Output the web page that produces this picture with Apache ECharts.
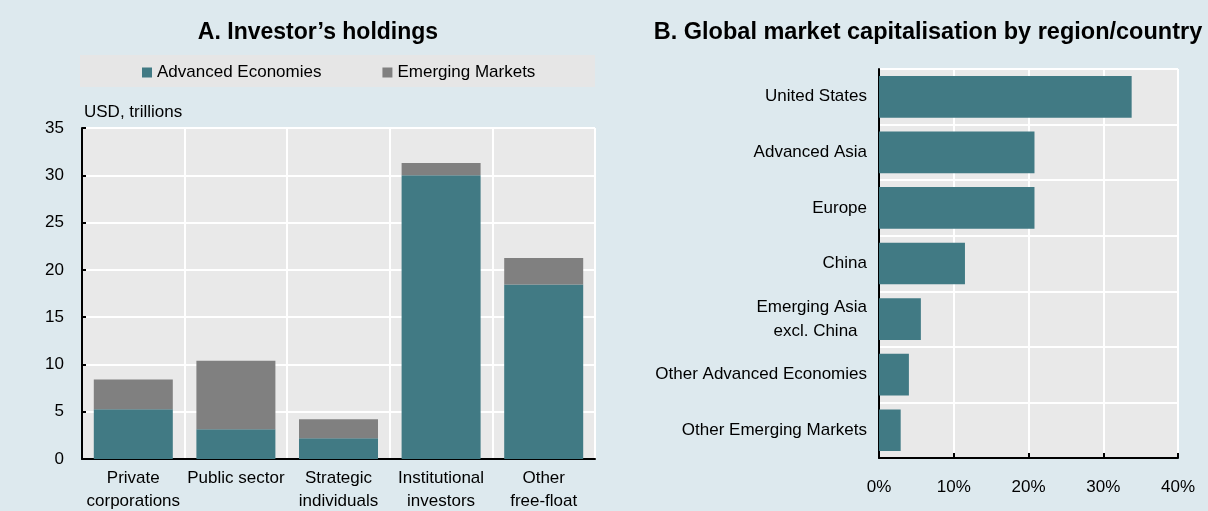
<!DOCTYPE html>
<html>
<head>
<meta charset="utf-8">
<script src="https://cdn.jsdelivr.net/npm/echarts@6/dist/echarts.min.js"></script>
<style>
  html, body { margin: 0; padding: 0; background: #dde9ee; }
  #chart { width: 1208px; height: 511px; }
</style>
</head>
<body>
<div id="chart"></div>
<script>
// panel A: investor holdings, USD trillions
const holders = ['Private\ncorporations', 'Public sector', 'Strategic\nindividuals', 'Institutional\ninvestors', 'Other\nfree-float'];
const advanced = [5.25, 3.15, 2.2, 30.0, 18.45];
const emerging = [3.15, 7.25, 2.0, 1.3, 2.8];

// panel B: share of global market cap, %
const regions = ['United States', 'Advanced Asia', 'Europe', 'China', 'Emerging Asia\nexcl. China  ', 'Other Advanced Economies', 'Other Emerging Markets'];
const shares = [33.8, 20.8, 20.8, 11.5, 5.6, 4.0, 2.9];

const teal = '#417a84';
const grey = '#808080';
const font = "'Liberation Sans', Arial, sans-serif";
const fs = 17;

const chart = echarts.init(document.getElementById('chart'));

chart.setOption({
  backgroundColor: '#dde9ee',
  textStyle: { fontFamily: font, color: '#000' },
  title: [
    { text: 'A. Investor\u2019s holdings', left: 313, top: 16, textAlign: 'center',
      textStyle: { fontFamily: font, fontSize: 23, fontWeight: 'bold', color: '#000' } },
    { text: 'B. Global market capitalisation by region/country', left: 923, top: 16, textAlign: 'center',
      textStyle: { fontFamily: font, fontSize: 23.5, fontWeight: 'bold', color: '#000' } }
  ],
  graphic: [
    { type: 'rect', left: 80, top: 55, shape: { width: 515, height: 32 }, style: { fill: '#e6e6e6' }, z: 0 }
  ],
  legend: {
    data: ['Advanced Economies', 'Emerging Markets'],
    left: 137, top: 59,
    itemWidth: 10, itemHeight: 10, itemGap: 61, icon: 'rect',
    textStyle: { fontFamily: font, fontSize: fs, color: '#000' },
    z: 5
  },
  grid: [
    { left: 82, top: 128, width: 513, height: 331, outerBoundsMode: 'none',
      show: true, backgroundColor: '#e9e9e9', borderWidth: 0 },
    { left: 879, top: 69, width: 299, height: 389, outerBoundsMode: 'none',
      show: true, backgroundColor: '#e9e9e9', borderWidth: 0 }
  ],
  xAxis: [
    { gridIndex: 0, type: 'category', data: holders,
      axisLine: { lineStyle: { color: '#000', width: 2 } },
      axisTick: { show: false },
      axisLabel: { fontFamily: font, fontSize: fs, color: '#000', lineHeight: 23, margin: 8, interval: 0 },
      splitLine: { show: true, lineStyle: { color: '#fff', width: 2 } } },
    { gridIndex: 1, type: 'value', min: 0, max: 40, interval: 10,
      axisLine: { show: true, lineStyle: { color: '#000', width: 2 } },
      axisTick: { show: true, inside: true, length: 5, lineStyle: { color: '#000', width: 2 } },
      axisLabel: { fontFamily: font, fontSize: fs, color: '#000', margin: 21, formatter: '{value}%' },
      splitLine: { show: true, lineStyle: { color: '#fff', width: 2 } } }
  ],
  yAxis: [
    { gridIndex: 0, type: 'value', min: 0, max: 35, interval: 5,
      name: 'USD, trillions', nameLocation: 'end', nameGap: 7,
      nameTextStyle: { fontFamily: font, fontSize: fs, color: '#000', align: 'left', padding: [0, 0, 0, 2] },
      axisLine: { show: true, lineStyle: { color: '#000', width: 2 } },
      axisTick: { show: true, inside: true, length: 4, lineStyle: { color: '#000', width: 2 } },
      axisLabel: { fontFamily: font, fontSize: fs, color: '#000', margin: 18 },
      splitLine: { show: true, lineStyle: { color: '#fff', width: 2 } } },
    { gridIndex: 1, type: 'category', data: regions, inverse: true,
      axisLine: { lineStyle: { color: '#000', width: 2 } },
      axisTick: { show: false },
      axisLabel: { fontFamily: font, fontSize: fs, color: '#000', margin: 12, lineHeight: 24, interval: 0 },
      splitLine: { show: true, lineStyle: { color: '#fff', width: 2 } } }
  ],
  series: [
    { name: 'Advanced Economies', type: 'bar', stack: 'a', xAxisIndex: 0, yAxisIndex: 0,
      data: advanced, barWidth: '77%', itemStyle: { color: teal } },
    { name: 'Emerging Markets', type: 'bar', stack: 'a', xAxisIndex: 0, yAxisIndex: 0,
      data: emerging, barWidth: '77%', itemStyle: { color: grey } },
    { name: 'Share', type: 'bar', xAxisIndex: 1, yAxisIndex: 1,
      data: shares, barWidth: '75%', itemStyle: { color: teal } }
  ]
});
</script>
</body>
</html>
